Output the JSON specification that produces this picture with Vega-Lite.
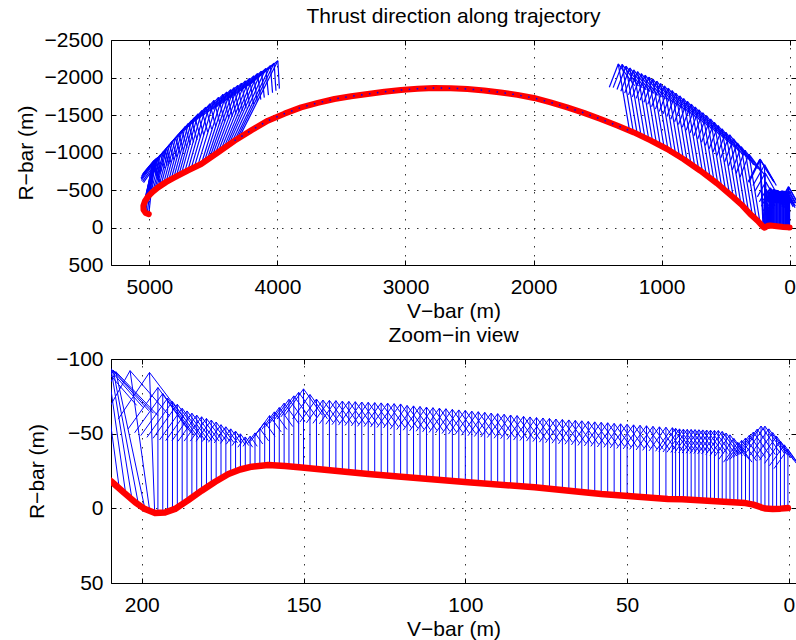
{
"$schema":"https://vega.github.io/schema/vega-lite/v6.json",
"padding":{"left":14,"top":5,"right":0,"bottom":0},
"spacing":1,
"config":{
"font":"Liberation Sans",
"view":{"stroke":"#000","strokeWidth":1},
"title":{"fontSize":21,"fontWeight":"normal","color":"#000","font":"Liberation Sans","anchor":"middle","frame":"group","baseline":"alphabetic","offset":2},
"axis":{"labelFont":"Liberation Sans","titleFont":"Liberation Sans","labelFontSize":21,"titleFontSize":21,"titleFontWeight":"normal","labelColor":"#000","titleColor":"#000","tickColor":"#000","tickSize":-5,"domain":false,"labelFlush":false,"labelOverlap":false,"labelBound":false,"gridColor":"#000","gridDash":[1.5,7.5],"gridOpacity":0.8,"gridWidth":1}
},
"datasets":{
"tTraj":[
{"i":0,"x":5005,"y":-178},{"i":1,"x":5030,"y":-195},{"i":2,"x":5046,"y":-235},{"i":3,"x":5047,"y":-290},{"i":4,"x":5035,"y":-350},{"i":5,"x":5012,"y":-410},{"i":6,"x":4975,"y":-475},{"i":7,"x":4932,"y":-535},{"i":8,"x":4870,"y":-605},{"i":9,"x":4803,"y":-668},{"i":10,"x":4700,"y":-760},{"i":11,"x":4595,"y":-847},{"i":12,"x":4465,"y":-1000},{"i":13,"x":4335,"y":-1157},{"i":14,"x":4205,"y":-1295},{"i":15,"x":4075,"y":-1424},{"i":16,"x":3945,"y":-1518},{"i":17,"x":3815,"y":-1601},{"i":18,"x":3685,"y":-1662},{"i":19,"x":3555,"y":-1713},{"i":20,"x":3425,"y":-1750},{"i":21,"x":3295,"y":-1780},{"i":22,"x":3165,"y":-1810},{"i":23,"x":3036,"y":-1833},{"i":24,"x":2906,"y":-1850},{"i":25,"x":2776,"y":-1860},{"i":26,"x":2646,"y":-1858},{"i":27,"x":2516,"y":-1847},{"i":28,"x":2386,"y":-1828},{"i":29,"x":2256,"y":-1801},{"i":30,"x":2126,"y":-1768},{"i":31,"x":1997,"y":-1727},{"i":32,"x":1867,"y":-1668},{"i":33,"x":1737,"y":-1601},{"i":34,"x":1607,"y":-1528},{"i":35,"x":1477,"y":-1447},{"i":36,"x":1347,"y":-1360},{"i":37,"x":1217,"y":-1268},{"i":38,"x":1087,"y":-1162},{"i":39,"x":957,"y":-1047},{"i":40,"x":827,"y":-910},{"i":41,"x":698,"y":-757},{"i":42,"x":568,"y":-590},{"i":43,"x":438,"y":-401},{"i":44,"x":370,"y":-295},{"i":45,"x":308,"y":-180},{"i":46,"x":250,"y":-90},{"i":47,"x":204,"y":-5},{"i":48,"x":195,"y":3},{"i":49,"x":170,"y":-24},{"i":50,"x":150,"y":-27},{"i":51,"x":100,"y":-17},{"i":52,"x":50,"y":-8},{"i":53,"x":15,"y":-4},{"i":54,"x":8,"y":0},{"i":55,"x":0,"y":0}
],
"tArr":[
{"x":5005,"y":-178,"tx":4965,"ty":-800,"ax":5045.9,"ay":-599.1,"bx":4910.5,"by":-590.3},
{"x":5017.5,"y":-186.5,"tx":4970,"ty":-815,"ax":5054.2,"ay":-612.8,"bx":4917.3,"by":-602.4},
{"x":5030,"y":-195,"tx":4975,"ty":-830,"ax":5062.4,"ay":-626.4,"bx":4924,"by":-614.4},
{"x":5038,"y":-217.5,"tx":4975,"ty":-845,"ax":5064.2,"ay":-644.8,"bx":4927.5,"by":-631.1},
{"x":5046,"y":-240,"tx":4975,"ty":-860,"ax":5065.9,"ay":-663.1,"bx":4930.9,"by":-647.7},
{"x":5046,"y":-270,"tx":4970,"ty":-875,"ax":5061,"ay":-683.6,"bx":4929.2,"by":-667.1},
{"x":5046,"y":-300,"tx":4965,"ty":-890,"ax":5056,"ay":-704.1,"bx":4927.4,"by":-686.5},
{"x":5038,"y":-330,"tx":4957.5,"ty":-902.5,"ax":5046.4,"ay":-722.3,"bx":4921.7,"by":-704.8},
{"x":5030,"y":-360,"tx":4950,"ty":-915,"ax":5036.8,"ay":-740.5,"bx":4916,"by":-723.1},
{"x":5019,"y":-390,"tx":4942.5,"ty":-925,"ax":5026,"ay":-756.7,"bx":4909.5,"by":-740.1},
{"x":5008,"y":-420,"tx":4935,"ty":-935,"ax":5015.2,"ay":-772.9,"bx":4903,"by":-757.1},
{"x":4991.5,"y":-447.5,"tx":4912.5,"ty":-972.5,"ax":4995.8,"ay":-807.8,"bx":4881.4,"by":-790.6},
{"x":4975,"y":-475,"tx":4890,"ty":-1010,"ax":4976.4,"ay":-842.7,"bx":4859.8,"by":-824.1},
{"x":4960,"y":-495,"tx":4877.5,"ty":-1033,"ax":4963.4,"ay":-864.5,"bx":4846.2,"by":-846.5},
{"x":4945,"y":-515,"tx":4865,"ty":-1056,"ax":4950.3,"ay":-886.2,"bx":4832.5,"by":-868.8},
{"x":4927.5,"y":-537.5,"tx":4842.5,"ty":-1101,"ax":4931.9,"ay":-924.3,"bx":4809.2,"by":-905.8},
{"x":4910,"y":-560,"tx":4820,"ty":-1146,"ax":4913.5,"ay":-962.4,"bx":4785.9,"by":-942.8},
{"x":4890,"y":-582.5,"tx":4795,"ty":-1195.5,"ax":4893.1,"ay":-1003.6,"bx":4759.6,"by":-982.9},
{"x":4870,"y":-605,"tx":4770,"ty":-1245,"ax":4872.7,"ay":-1044.7,"bx":4733.3,"by":-1022.9},
{"x":4850,"y":-624,"tx":4745,"ty":-1294.5,"ax":4852.7,"ay":-1084.7,"bx":4706.7,"by":-1061.8},
{"x":4830,"y":-643,"tx":4720,"ty":-1344,"ax":4832.6,"ay":-1124.7,"bx":4680,"by":-1100.7},
{"x":4810,"y":-661.5,"tx":4695,"ty":-1386.5,"ax":4811.9,"ay":-1159.8,"bx":4654,"by":-1134.7},
{"x":4790,"y":-680,"tx":4670,"ty":-1429,"ax":4791.2,"ay":-1194.9,"bx":4628,"by":-1168.7},
{"x":4770,"y":-698,"tx":4645,"ty":-1471.5,"ax":4770.5,"ay":-1229.9,"bx":4602,"by":-1202.6},
{"x":4750,"y":-716,"tx":4620,"ty":-1514,"ax":4749.8,"ay":-1264.9,"bx":4576,"by":-1236.5},
{"x":4725,"y":-738,"tx":4590,"ty":-1559.5,"ax":4724,"ay":-1303.1,"bx":4545.1,"by":-1273.7},
{"x":4700,"y":-760,"tx":4560,"ty":-1605,"ax":4698.2,"ay":-1341.3,"bx":4514.2,"by":-1310.9},
{"x":4675,"y":-781,"tx":4527.5,"ty":-1649.5,"ax":4670.8,"ay":-1378.9,"bx":4481.7,"by":-1346.8},
{"x":4650,"y":-802,"tx":4495,"ty":-1694,"ax":4643.3,"ay":-1416.5,"bx":4449.1,"by":-1382.7},
{"x":4622.5,"y":-824.5,"tx":4460,"ty":-1735,"ax":4612.8,"ay":-1452.2,"bx":4414.5,"by":-1416.8},
{"x":4595,"y":-847,"tx":4425,"ty":-1776,"ax":4582.3,"ay":-1487.9,"bx":4379.9,"by":-1450.9},
{"x":4572.5,"y":-873.5,"tx":4395,"ty":-1806.5,"ax":4555.2,"ay":-1517.9,"bx":4352,"by":-1479.3},
{"x":4550,"y":-900,"tx":4365,"ty":-1837,"ax":4528.1,"ay":-1547.9,"bx":4324.1,"by":-1507.7},
{"x":4530,"y":-923.5,"tx":4337.5,"ty":-1865.5,"ax":4503.6,"ay":-1575.6,"bx":4298.5,"by":-1533.7},
{"x":4510,"y":-947,"tx":4310,"ty":-1894,"ax":4479.1,"ay":-1603.3,"bx":4272.9,"by":-1559.7},
{"x":4487.5,"y":-973.5,"tx":4280,"ty":-1924.5,"ax":4452.1,"ay":-1633.3,"bx":4245,"by":-1588.1},
{"x":4465,"y":-1000,"tx":4250,"ty":-1955,"ax":4425,"ay":-1663.2,"bx":4217,"by":-1616.4},
{"x":4442.5,"y":-1027.5,"tx":4217.5,"ty":-1988.5,"ax":4396.5,"ay":-1695.9,"bx":4187.2,"by":-1646.9},
{"x":4420,"y":-1055,"tx":4185,"ty":-2022,"ax":4367.9,"ay":-1728.5,"bx":4157.3,"by":-1677.3},
{"x":4400,"y":-1080,"tx":4155,"ty":-2052.5,"ax":4341.8,"ay":-1758.3,"bx":4130,"by":-1704.9},
{"x":4380,"y":-1105,"tx":4125,"ty":-2083,"ax":4315.7,"ay":-1788.1,"bx":4102.7,"by":-1732.5},
{"x":4357.5,"y":-1131,"tx":4090,"ty":-2120.5,"ax":4286.1,"ay":-1823.2,"bx":4070.6,"by":-1764.9},
{"x":4335,"y":-1157,"tx":4055,"ty":-2158,"ax":4256.4,"ay":-1858.2,"bx":4038.4,"by":-1797.2},
{"x":4317.5,"y":-1176,"tx":4026,"ty":-2191,"ax":4232.8,"ay":-1887.8,"bx":4011.7,"by":-1824.3},
{"x":4300,"y":-1195,"tx":3997,"ty":-2224,"ax":4209.1,"ay":-1917.4,"bx":3984.9,"by":-1851.4},
{"x":1250,"y":-1291,"tx":1338,"ty":-2181,"ax":1408,"ay":-1871,"bx":1210,"by":-1890},
{"x":1220,"y":-1270,"tx":1308,"ty":-2175,"ax":1378,"ay":-1865,"bx":1180,"by":-1884},
{"x":1190,"y":-1246,"tx":1278,"ty":-2151,"ax":1348,"ay":-1841,"bx":1150,"by":-1860},
{"x":1160,"y":-1222,"tx":1248,"ty":-2127,"ax":1318,"ay":-1817,"bx":1120,"by":-1836},
{"x":1130,"y":-1197,"tx":1218,"ty":-2102,"ax":1288,"ay":-1792,"bx":1090,"by":-1811},
{"x":1100,"y":-1173,"tx":1188,"ty":-2078,"ax":1258,"ay":-1768,"bx":1060,"by":-1787},
{"x":1070,"y":-1147,"tx":1158,"ty":-2052,"ax":1228,"ay":-1742,"bx":1030,"by":-1761},
{"x":1040,"y":-1120,"tx":1128,"ty":-2032,"ax":1198,"ay":-1722,"bx":1000,"by":-1741},
{"x":1010,"y":-1094,"tx":1098,"ty":-2006,"ax":1168,"ay":-1696,"bx":970,"by":-1715},
{"x":980,"y":-1067,"tx":1068,"ty":-1979,"ax":1138,"ay":-1669,"bx":940,"by":-1688},
{"x":950,"y":-1040,"tx":1038,"ty":-1952,"ax":1108,"ay":-1642,"bx":910,"by":-1661},
{"x":920,"y":-1008,"tx":1008,"ty":-1920,"ax":1078,"ay":-1610,"bx":880,"by":-1629},
{"x":890,"y":-976,"tx":978,"ty":-1888,"ax":1048,"ay":-1578,"bx":850,"by":-1597},
{"x":860,"y":-945,"tx":948,"ty":-1857,"ax":1018,"ay":-1547,"bx":820,"by":-1566},
{"x":830,"y":-913,"tx":918,"ty":-1825,"ax":988,"ay":-1515,"bx":790,"by":-1534},
{"x":800,"y":-878,"tx":888,"ty":-1790,"ax":958,"ay":-1480,"bx":760,"by":-1499},
{"x":770,"y":-842,"tx":858,"ty":-1754,"ax":928,"ay":-1444,"bx":730,"by":-1463},
{"x":740,"y":-807,"tx":828,"ty":-1719,"ax":898,"ay":-1409,"bx":700,"by":-1428},
{"x":710,"y":-771,"tx":798,"ty":-1683,"ax":868,"ay":-1373,"bx":670,"by":-1392},
{"x":680,"y":-734,"tx":768,"ty":-1646,"ax":838,"ay":-1336,"bx":640,"by":-1355},
{"x":650,"y":-695,"tx":738,"ty":-1607,"ax":808,"ay":-1297,"bx":610,"by":-1316},
{"x":620,"y":-657,"tx":708,"ty":-1569,"ax":778,"ay":-1259,"bx":580,"by":-1278},
{"x":590,"y":-618,"tx":678,"ty":-1530,"ax":748,"ay":-1220,"bx":550,"by":-1239},
{"x":560,"y":-578,"tx":648,"ty":-1490,"ax":718,"ay":-1180,"bx":520,"by":-1199},
{"x":530,"y":-535,"tx":618,"ty":-1447,"ax":688,"ay":-1137,"bx":490,"by":-1156},
{"x":500,"y":-491,"tx":588,"ty":-1403,"ax":658,"ay":-1093,"bx":460,"by":-1112},
{"x":470,"y":-448,"tx":558,"ty":-1360,"ax":628,"ay":-1050,"bx":430,"by":-1069},
{"x":440,"y":-404,"tx":528,"ty":-1316,"ax":598,"ay":-1006,"bx":400,"by":-1025},
{"x":410,"y":-357,"tx":498,"ty":-1269,"ax":568,"ay":-959,"bx":370,"by":-978},
{"x":380,"y":-311,"tx":468,"ty":-1236,"ax":538,"ay":-926,"bx":340,"by":-945},
{"x":350,"y":-258,"tx":438,"ty":-1183,"ax":508,"ay":-873,"bx":310,"by":-892},
{"x":320,"y":-202,"tx":408,"ty":-1127,"ax":478,"ay":-817,"bx":280,"by":-836},
{"x":290,"y":-152,"tx":378,"ty":-1077,"ax":448,"ay":-767,"bx":250,"by":-786},
{"x":260,"y":-105,"tx":348,"ty":-1030,"ax":418,"ay":-720,"bx":220,"by":-739},
{"x":230,"y":-53,"tx":318,"ty":-978,"ax":388,"ay":-668,"bx":190,"by":-687},
{"x":207,"y":-14,"tx":232,"ty":-914,"ax":321.9,"ay":-614.3,"bx":125.7,"by":-619.7},
{"x":203,"y":-6,"tx":231,"ty":-911,"ax":320.4,"ay":-609.3,"bx":123.2,"by":-615.4},
{"x":199,"y":0.5,"tx":229,"ty":-899.5,"ax":317.2,"ay":-599.2,"bx":121,"by":-605.8},
{"x":195,"y":3,"tx":195,"ty":-836,"ax":286.5,"ay":-559.1,"bx":103.5,"by":-559.1},
{"x":190.5,"y":1.2,"tx":190.5,"ty":-725.8,"ax":269.7,"ay":-485.9,"bx":111.3,"by":-485.9},
{"x":186,"y":-4.9,"tx":186,"ty":-607.9,"ax":251.7,"ay":-408.9,"bx":120.3,"by":-408.9},
{"x":181.5,"y":-11.8,"tx":181.5,"ty":-506.8,"ax":235.5,"ay":-343.4,"bx":127.5,"by":-343.4},
{"x":177,"y":-18.2,"tx":177,"ty":-414.2,"ax":220.2,"ay":-283.5,"bx":133.8,"by":-283.5},
{"x":172.5,"y":-23.6,"tx":172.5,"ty":-319.6,"ax":204.8,"ay":-221.9,"bx":140.2,"by":-221.9},
{"x":168,"y":-27,"tx":168,"ty":-235,"ax":190.7,"ay":-166.4,"bx":145.3,"by":-166.4},
{"x":163.5,"y":-28.5,"tx":163.5,"ty":-277.5,"ax":190.6,"ay":-195.3,"bx":136.4,"by":-195.3},
{"x":160.5,"y":-29,"tx":160.5,"ty":-360,"ax":196.6,"ay":-250.8,"bx":124.4,"by":-250.8},
{"x":157.5,"y":-28.7,"tx":157.5,"ty":-416.7,"ax":199.8,"ay":-288.7,"bx":115.2,"by":-288.7},
{"x":154.5,"y":-28.2,"tx":154.5,"ty":-476.2,"ax":203.3,"ay":-328.4,"bx":105.7,"by":-328.4},
{"x":151.5,"y":-27.6,"tx":151.5,"ty":-528.6,"ax":206.1,"ay":-363.3,"bx":96.9,"by":-363.3},
{"x":148,"y":-26.9,"tx":148,"ty":-519.9,"ax":201.7,"ay":-357.2,"bx":94.3,"by":-357.2},
{"x":144,"y":-26,"tx":144,"ty":-491,"ax":194.7,"ay":-337.5,"bx":93.3,"by":-337.5},
{"x":140,"y":-25.1,"tx":140,"ty":-495.1,"ax":191.2,"ay":-340,"bx":88.8,"by":-340},
{"x":136,"y":-24.3,"tx":136,"ty":-497.3,"ax":187.6,"ay":-341.2,"bx":84.4,"by":-341.2},
{"x":132,"y":-23.4,"tx":132,"ty":-501.4,"ax":184.1,"ay":-343.7,"bx":79.9,"by":-343.7},
{"x":128,"y":-22.6,"tx":128,"ty":-504.6,"ax":180.5,"ay":-345.5,"bx":75.5,"by":-345.5},
{"x":124,"y":-21.9,"tx":124,"ty":-506.9,"ax":176.9,"ay":-346.9,"bx":71.1,"by":-346.9},
{"x":120,"y":-21.2,"tx":120,"ty":-508.2,"ax":173.1,"ay":-347.5,"bx":66.9,"by":-347.5},
{"x":114,"y":-20.1,"tx":114,"ty":-501.1,"ax":166.4,"ay":-342.4,"bx":61.6,"by":-342.4},
{"x":108,"y":-19,"tx":108,"ty":-500,"ax":160.4,"ay":-341.3,"bx":55.6,"by":-341.3},
{"x":102,"y":-17.9,"tx":102,"ty":-497.9,"ax":154.3,"ay":-339.5,"bx":49.7,"by":-339.5},
{"x":96,"y":-16.9,"tx":96,"ty":-494.9,"ax":148.1,"ay":-337.2,"bx":43.9,"by":-337.2},
{"x":90,"y":-15.9,"tx":90,"ty":-490.9,"ax":141.8,"ay":-334.1,"bx":38.2,"by":-334.1},
{"x":84,"y":-15,"tx":84,"ty":-486,"ax":135.3,"ay":-330.6,"bx":32.7,"by":-330.6},
{"x":78,"y":-14,"tx":78,"ty":-482,"ax":129,"ay":-327.6,"bx":27,"by":-327.6},
{"x":72,"y":-12.7,"tx":72,"ty":-483.7,"ax":123.3,"ay":-328.3,"bx":20.7,"by":-328.3},
{"x":66,"y":-11.3,"tx":66,"ty":-487.3,"ax":117.9,"ay":-330.2,"bx":14.1,"by":-330.2},
{"x":60,"y":-10,"tx":60,"ty":-489,"ax":112.2,"ay":-330.9,"bx":7.8,"by":-330.9},
{"x":54,"y":-9,"tx":54,"ty":-488,"ax":106.2,"ay":-329.9,"bx":1.8,"by":-329.9},
{"x":48,"y":-8,"tx":48,"ty":-487,"ax":100.2,"ay":-328.9,"bx":-4.2,"by":-328.9},
{"x":42,"y":-7,"tx":42,"ty":-486,"ax":94.2,"ay":-327.9,"bx":-10.2,"by":-327.9},
{"x":36,"y":-6.1,"tx":36,"ty":-485.1,"ax":88.2,"ay":-327,"bx":-16.2,"by":-327},
{"x":32.6,"y":-5.9,"tx":32.6,"ty":-476.9,"ax":83.9,"ay":-321.5,"bx":-18.7,"by":-321.5},
{"x":29,"y":-5.5,"tx":29,"ty":-477.5,"ax":80.4,"ay":-321.7,"bx":-22.4,"by":-321.7},
{"x":25.4,"y":-5,"tx":25.4,"ty":-479,"ax":77.1,"ay":-322.6,"bx":-26.3,"by":-322.6},
{"x":21.8,"y":-4.6,"tx":21.8,"ty":-479.6,"ax":73.6,"ay":-322.8,"bx":-30,"by":-322.8},
{"x":18.2,"y":-4.1,"tx":18.2,"ty":-455.1,"ax":67.4,"ay":-306.3,"bx":-31,"by":-306.3},
{"x":15.8,"y":-3.8,"tx":15.8,"ty":-407.8,"ax":59.8,"ay":-274.5,"bx":-28.2,"by":-274.5},
{"x":13.4,"y":-3.5,"tx":13.4,"ty":-439.5,"ax":60.9,"ay":-295.6,"bx":-34.1,"by":-295.6},
{"x":11,"y":-2.5,"tx":11,"ty":-487.5,"ax":63.9,"ay":-327.4,"bx":-41.9,"by":-327.4},
{"x":8.6,"y":-0.7,"tx":8.6,"ty":-544.7,"ax":67.9,"ay":-365.2,"bx":-50.7,"by":-365.2},
{"x":6.2,"y":0.3,"tx":6.2,"ty":-534.7,"ax":64.5,"ay":-358.1,"bx":-52.1,"by":-358.1},
{"x":3.8,"y":0.4,"tx":3.8,"ty":-485.6,"ax":56.8,"ay":-325.2,"bx":-49.2,"by":-325.2},
{"x":1.4,"y":0,"tx":1.4,"ty":-425,"ax":47.7,"ay":-284.7,"bx":-44.9,"by":-284.7},
{"x":0.3,"y":-0.2,"tx":0.3,"ty":-394.2,"ax":43.2,"ay":-264.2,"bx":-42.6,"by":-264.2}
],
"zTraj":[
{"x":212,"y":-22},{"x":209.3,"y":-17.9},{"x":205.5,"y":-10.5},{"x":202,"y":-4},{"x":199,"y":0.5},{"x":195.9,"y":3.1},{"x":192.8,"y":2.8},{"x":189.7,"y":0.4},{"x":185.6,"y":-5.5},{"x":181.5,"y":-11.8},{"x":177.3,"y":-17.8},{"x":173.2,"y":-23},{"x":169.6,"y":-26},{"x":166,"y":-27.9},{"x":160.9,"y":-29},{"x":155.7,"y":-28.4},{"x":150.6,"y":-27.4},{"x":140.3,"y":-25.2},{"x":130,"y":-23},{"x":119.8,"y":-21.2},{"x":99.2,"y":-17.4},{"x":78.6,"y":-14.1},{"x":58,"y":-9.6},{"x":37.4,"y":-6.3},{"x":33,"y":-6.1},{"x":20,"y":-4.4},{"x":13.4,"y":-3.5},{"x":11,"y":-2.5},{"x":9.8,"y":-1.6},{"x":8.6,"y":-0.7},{"x":7.4,"y":0.1},{"x":5,"y":0.4},{"x":2.6,"y":0.2},{"x":0.3,"y":-0.2}
],
"zArr":[
{"x":207,"y":-14.4,"tx":212,"ty":-95,"ax":219.1,"ay":-67.9,"bx":201.6,"by":-69},
{"x":205,"y":-10.5,"tx":210.5,"ty":-94.5,"ax":217.8,"ay":-66.2,"bx":199.5,"by":-67.4},
{"x":203,"y":-6,"tx":209.5,"ty":-93.5,"ax":216.9,"ay":-63.9,"bx":197.8,"by":-65.3},
{"x":201,"y":-2.4,"tx":208.8,"ty":-92.5,"ax":216.1,"ay":-62,"bx":196.4,"by":-63.7},
{"x":199,"y":0.5,"tx":208,"ty":-91.5,"ax":215.1,"ay":-60.1,"bx":195,"by":-62.1},
{"x":197.5,"y":2.2,"tx":203.6,"ty":-92.2,"ax":211.9,"ay":-60.3,"bx":191.3,"by":-61.7},
{"x":196,"y":3.1,"tx":197.6,"ty":-91,"ax":207.3,"ay":-59.7,"bx":186.8,"by":-60.1},
{"x":195,"y":3,"tx":195,"ty":-80.9,"ax":204.2,"ay":-53.2,"bx":185.9,"by":-53.2},
{"x":193.5,"y":2.9,"tx":193.5,"ty":-76.9,"ax":202.2,"ay":-50.6,"bx":184.8,"by":-50.6},
{"x":192,"y":2.3,"tx":192,"ty":-73.8,"ax":200.3,"ay":-48.7,"bx":183.7,"by":-48.7},
{"x":190.5,"y":1.2,"tx":190.5,"ty":-71.5,"ax":198.4,"ay":-47.5,"bx":182.6,"by":-47.5},
{"x":189,"y":-0.5,"tx":189,"ty":-69.7,"ax":196.5,"ay":-46.9,"bx":181.5,"by":-46.9},
{"x":187.5,"y":-2.7,"tx":187.5,"ty":-67,"ax":194.5,"ay":-45.8,"bx":180.5,"by":-45.8},
{"x":186,"y":-4.9,"tx":186,"ty":-65.2,"ax":192.6,"ay":-45.3,"bx":179.4,"by":-45.3},
{"x":184.5,"y":-7.2,"tx":184.5,"ty":-63.7,"ax":190.7,"ay":-45.1,"bx":178.3,"by":-45.1},
{"x":183,"y":-9.5,"tx":183,"ty":-62.4,"ax":188.8,"ay":-44.9,"bx":177.2,"by":-44.9},
{"x":181.5,"y":-11.8,"tx":181.5,"ty":-61.3,"ax":186.9,"ay":-45,"bx":176.1,"by":-45},
{"x":180,"y":-14,"tx":180,"ty":-60.2,"ax":185,"ay":-45,"bx":175,"by":-45},
{"x":178.5,"y":-16.1,"tx":178.5,"ty":-59.1,"ax":183.2,"ay":-44.9,"bx":173.8,"by":-44.9},
{"x":177,"y":-18.2,"tx":177,"ty":-57.8,"ax":181.3,"ay":-44.7,"bx":172.7,"by":-44.7},
{"x":175.5,"y":-20.1,"tx":175.5,"ty":-56,"ax":179.4,"ay":-44.2,"bx":171.6,"by":-44.2},
{"x":174,"y":-22,"tx":174,"ty":-54.6,"ax":177.6,"ay":-43.8,"bx":170.4,"by":-43.8},
{"x":172.5,"y":-23.6,"tx":172.5,"ty":-53.2,"ax":175.7,"ay":-43.4,"bx":169.3,"by":-43.4},
{"x":171,"y":-25,"tx":171,"ty":-51.7,"ax":173.9,"ay":-42.9,"bx":168.1,"by":-42.9},
{"x":169.5,"y":-26.1,"tx":169.5,"ty":-49.9,"ax":172.1,"ay":-42,"bx":166.9,"by":-42},
{"x":168,"y":-27,"tx":168,"ty":-47.8,"ax":170.3,"ay":-40.9,"bx":165.7,"by":-40.9},
{"x":166.5,"y":-27.7,"tx":166.5,"ty":-48.3,"ax":168.7,"ay":-41.5,"bx":164.3,"by":-41.5},
{"x":165,"y":-28.1,"tx":165,"ty":-50.5,"ax":167.4,"ay":-43.1,"bx":162.6,"by":-43.1},
{"x":163.5,"y":-28.5,"tx":163.5,"ty":-53.4,"ax":166.2,"ay":-45.2,"bx":160.8,"by":-45.2},
{"x":162,"y":-28.8,"tx":162,"ty":-57.7,"ax":165.2,"ay":-48.2,"bx":158.8,"by":-48.2},
{"x":160.5,"y":-29,"tx":160.5,"ty":-62.1,"ax":164.1,"ay":-51.2,"bx":156.9,"by":-51.2},
{"x":159,"y":-28.9,"tx":159,"ty":-64.6,"ax":162.9,"ay":-52.8,"bx":155.1,"by":-52.8},
{"x":157.5,"y":-28.7,"tx":157.5,"ty":-67.5,"ax":161.7,"ay":-54.7,"bx":153.3,"by":-54.7},
{"x":156,"y":-28.5,"tx":156,"ty":-70.4,"ax":160.6,"ay":-56.6,"bx":151.4,"by":-56.6},
{"x":154.5,"y":-28.2,"tx":154.5,"ty":-73,"ax":159.4,"ay":-58.2,"bx":149.6,"by":-58.2},
{"x":153,"y":-27.9,"tx":153,"ty":-75.3,"ax":158.2,"ay":-59.7,"bx":147.8,"by":-59.7},
{"x":151.5,"y":-27.6,"tx":151.5,"ty":-77.7,"ax":157,"ay":-61.2,"bx":146,"by":-61.2},
{"x":150,"y":-27.3,"tx":150,"ty":-80,"ax":155.7,"ay":-62.6,"bx":144.3,"by":-62.6},
{"x":148,"y":-26.9,"tx":148,"ty":-76.2,"ax":153.4,"ay":-59.9,"bx":142.6,"by":-59.9},
{"x":146,"y":-26.4,"tx":146,"ty":-73.2,"ax":151.1,"ay":-57.8,"bx":140.9,"by":-57.8},
{"x":144,"y":-26,"tx":144,"ty":-72.5,"ax":149.1,"ay":-57.2,"bx":138.9,"by":-57.2},
{"x":142,"y":-25.6,"tx":142,"ty":-72.3,"ax":147.1,"ay":-56.9,"bx":136.9,"by":-56.9},
{"x":140,"y":-25.1,"tx":140,"ty":-72.1,"ax":145.1,"ay":-56.6,"bx":134.9,"by":-56.6},
{"x":138,"y":-24.7,"tx":138,"ty":-71.8,"ax":143.1,"ay":-56.3,"bx":132.9,"by":-56.3},
{"x":136,"y":-24.3,"tx":136,"ty":-71.6,"ax":141.2,"ay":-56,"bx":130.8,"by":-56},
{"x":134,"y":-23.8,"tx":134,"ty":-71.4,"ax":139.2,"ay":-55.7,"bx":128.8,"by":-55.7},
{"x":132,"y":-23.4,"tx":132,"ty":-71.2,"ax":137.2,"ay":-55.4,"bx":126.8,"by":-55.4},
{"x":130,"y":-23,"tx":130,"ty":-71,"ax":135.2,"ay":-55.2,"bx":124.8,"by":-55.2},
{"x":128,"y":-22.6,"tx":128,"ty":-70.8,"ax":133.3,"ay":-54.9,"bx":122.7,"by":-54.9},
{"x":126,"y":-22.3,"tx":126,"ty":-70.6,"ax":131.3,"ay":-54.7,"bx":120.7,"by":-54.7},
{"x":124,"y":-21.9,"tx":124,"ty":-70.4,"ax":129.3,"ay":-54.4,"bx":118.7,"by":-54.4},
{"x":122,"y":-21.6,"tx":122,"ty":-70.1,"ax":127.3,"ay":-54.1,"bx":116.7,"by":-54.1},
{"x":120,"y":-21.2,"tx":120,"ty":-69.9,"ax":125.3,"ay":-53.8,"bx":114.7,"by":-53.8},
{"x":118,"y":-20.8,"tx":118,"ty":-68.9,"ax":123.2,"ay":-53,"bx":112.8,"by":-53},
{"x":116,"y":-20.5,"tx":116,"ty":-68.6,"ax":121.2,"ay":-52.7,"bx":110.8,"by":-52.7},
{"x":114,"y":-20.1,"tx":114,"ty":-68.2,"ax":119.2,"ay":-52.3,"bx":108.8,"by":-52.3},
{"x":112,"y":-19.7,"tx":112,"ty":-67.8,"ax":117.2,"ay":-51.9,"bx":106.8,"by":-51.9},
{"x":110,"y":-19.4,"tx":110,"ty":-67.4,"ax":115.2,"ay":-51.6,"bx":104.8,"by":-51.6},
{"x":108,"y":-19,"tx":108,"ty":-67.1,"ax":113.2,"ay":-51.2,"bx":102.8,"by":-51.2},
{"x":106,"y":-18.6,"tx":106,"ty":-66.7,"ax":111.2,"ay":-50.8,"bx":100.8,"by":-50.8},
{"x":104,"y":-18.3,"tx":104,"ty":-66.3,"ax":109.2,"ay":-50.5,"bx":98.8,"by":-50.5},
{"x":102,"y":-17.9,"tx":102,"ty":-65.9,"ax":107.2,"ay":-50.1,"bx":96.8,"by":-50.1},
{"x":100,"y":-17.5,"tx":100,"ty":-65.6,"ax":105.2,"ay":-49.7,"bx":94.8,"by":-49.7},
{"x":98,"y":-17.2,"tx":98,"ty":-65.1,"ax":103.2,"ay":-49.3,"bx":92.8,"by":-49.3},
{"x":96,"y":-16.9,"tx":96,"ty":-64.7,"ax":101.2,"ay":-48.9,"bx":90.8,"by":-48.9},
{"x":94,"y":-16.6,"tx":94,"ty":-64.3,"ax":99.2,"ay":-48.6,"bx":88.8,"by":-48.6},
{"x":92,"y":-16.2,"tx":92,"ty":-63.8,"ax":97.2,"ay":-48.1,"bx":86.8,"by":-48.1},
{"x":90,"y":-15.9,"tx":90,"ty":-63.4,"ax":95.2,"ay":-47.7,"bx":84.8,"by":-47.7},
{"x":88,"y":-15.6,"tx":88,"ty":-63,"ax":93.2,"ay":-47.4,"bx":82.8,"by":-47.4},
{"x":86,"y":-15.3,"tx":86,"ty":-62.5,"ax":91.1,"ay":-46.9,"bx":80.9,"by":-46.9},
{"x":84,"y":-15,"tx":84,"ty":-62.1,"ax":89.1,"ay":-46.6,"bx":78.9,"by":-46.6},
{"x":82,"y":-14.6,"tx":82,"ty":-61.6,"ax":87.1,"ay":-46.1,"bx":76.9,"by":-46.1},
{"x":80,"y":-14.3,"tx":80,"ty":-61.2,"ax":85.1,"ay":-45.7,"bx":74.9,"by":-45.7},
{"x":78,"y":-14,"tx":78,"ty":-60.8,"ax":83.1,"ay":-45.4,"bx":72.9,"by":-45.4},
{"x":76,"y":-13.5,"tx":76,"ty":-60.5,"ax":81.1,"ay":-45,"bx":70.9,"by":-45},
{"x":74,"y":-13.1,"tx":74,"ty":-60.2,"ax":79.1,"ay":-44.7,"bx":68.9,"by":-44.7},
{"x":72,"y":-12.7,"tx":72,"ty":-59.8,"ax":77.1,"ay":-44.3,"bx":66.9,"by":-44.3},
{"x":70,"y":-12.2,"tx":70,"ty":-59.5,"ax":75.2,"ay":-43.9,"bx":64.8,"by":-43.9},
{"x":68,"y":-11.8,"tx":68,"ty":-59.2,"ax":73.2,"ay":-43.6,"bx":62.8,"by":-43.6},
{"x":66,"y":-11.3,"tx":66,"ty":-58.9,"ax":71.2,"ay":-43.2,"bx":60.8,"by":-43.2},
{"x":64,"y":-10.9,"tx":64,"ty":-58.6,"ax":69.2,"ay":-42.9,"bx":58.8,"by":-42.9},
{"x":62,"y":-10.5,"tx":62,"ty":-58.2,"ax":67.2,"ay":-42.5,"bx":56.8,"by":-42.5},
{"x":60,"y":-10,"tx":60,"ty":-57.9,"ax":65.2,"ay":-42.1,"bx":54.8,"by":-42.1},
{"x":58,"y":-9.6,"tx":58,"ty":-57.6,"ax":63.2,"ay":-41.8,"bx":52.8,"by":-41.8},
{"x":56,"y":-9.3,"tx":56,"ty":-57.3,"ax":61.2,"ay":-41.5,"bx":50.8,"by":-41.5},
{"x":54,"y":-9,"tx":54,"ty":-56.9,"ax":59.2,"ay":-41.1,"bx":48.8,"by":-41.1},
{"x":52,"y":-8.6,"tx":52,"ty":-56.6,"ax":57.2,"ay":-40.8,"bx":46.8,"by":-40.8},
{"x":50,"y":-8.3,"tx":50,"ty":-56.3,"ax":55.2,"ay":-40.5,"bx":44.8,"by":-40.5},
{"x":48,"y":-8,"tx":48,"ty":-55.9,"ax":53.2,"ay":-40.1,"bx":42.8,"by":-40.1},
{"x":46,"y":-7.7,"tx":46,"ty":-55.6,"ax":51.2,"ay":-39.8,"bx":40.8,"by":-39.8},
{"x":44,"y":-7.4,"tx":44,"ty":-55.3,"ax":49.2,"ay":-39.5,"bx":38.8,"by":-39.5},
{"x":42,"y":-7,"tx":42,"ty":-54.9,"ax":47.2,"ay":-39.1,"bx":36.8,"by":-39.1},
{"x":40,"y":-6.7,"tx":40,"ty":-54.6,"ax":45.2,"ay":-38.8,"bx":34.8,"by":-38.8},
{"x":38,"y":-6.4,"tx":38,"ty":-54.3,"ax":43.2,"ay":-38.5,"bx":32.8,"by":-38.5},
{"x":36,"y":-6.1,"tx":36,"ty":-54,"ax":41.2,"ay":-38.2,"bx":30.8,"by":-38.2},
{"x":35,"y":-6.2,"tx":35,"ty":-53.6,"ax":40.2,"ay":-38,"bx":29.8,"by":-38},
{"x":33.8,"y":-6.1,"tx":33.8,"ty":-53.2,"ax":38.9,"ay":-37.7,"bx":28.7,"by":-37.7},
{"x":32.6,"y":-5.9,"tx":32.6,"ty":-53,"ax":37.7,"ay":-37.5,"bx":27.5,"by":-37.5},
{"x":31.4,"y":-5.8,"tx":31.4,"ty":-52.9,"ax":36.5,"ay":-37.4,"bx":26.3,"by":-37.4},
{"x":30.2,"y":-5.6,"tx":30.2,"ty":-52.8,"ax":35.3,"ay":-37.3,"bx":25.1,"by":-37.3},
{"x":29,"y":-5.5,"tx":29,"ty":-52.7,"ax":34.1,"ay":-37.2,"bx":23.9,"by":-37.2},
{"x":27.8,"y":-5.3,"tx":27.8,"ty":-52.6,"ax":33,"ay":-37,"bx":22.6,"by":-37},
{"x":26.6,"y":-5.2,"tx":26.6,"ty":-52.5,"ax":31.8,"ay":-36.9,"bx":21.4,"by":-36.9},
{"x":25.4,"y":-5,"tx":25.4,"ty":-52.4,"ax":30.6,"ay":-36.8,"bx":20.2,"by":-36.8},
{"x":24.2,"y":-4.9,"tx":24.2,"ty":-52.3,"ax":29.4,"ay":-36.7,"bx":19,"by":-36.7},
{"x":23,"y":-4.7,"tx":23,"ty":-52.2,"ax":28.2,"ay":-36.5,"bx":17.8,"by":-36.5},
{"x":21.8,"y":-4.6,"tx":21.8,"ty":-52.1,"ax":27,"ay":-36.4,"bx":16.6,"by":-36.4},
{"x":20.6,"y":-4.4,"tx":20.6,"ty":-51.5,"ax":25.7,"ay":-36,"bx":15.5,"by":-36},
{"x":19.4,"y":-4.3,"tx":19.4,"ty":-50.4,"ax":24.4,"ay":-35.2,"bx":14.4,"by":-35.2},
{"x":18.2,"y":-4.1,"tx":18.2,"ty":-49.2,"ax":23.1,"ay":-34.3,"bx":13.3,"by":-34.3},
{"x":17,"y":-4,"tx":17,"ty":-46.8,"ax":21.7,"ay":-32.7,"bx":12.3,"by":-32.7},
{"x":15.8,"y":-3.8,"tx":15.8,"ty":-44.2,"ax":20.2,"ay":-30.9,"bx":11.4,"by":-30.9},
{"x":14.6,"y":-3.7,"tx":14.6,"ty":-45.5,"ax":19.2,"ay":-31.7,"bx":10,"by":-31.7},
{"x":13.4,"y":-3.5,"tx":13.4,"ty":-47.1,"ax":18.2,"ay":-32.7,"bx":8.6,"by":-32.7},
{"x":12.2,"y":-3.3,"tx":12.2,"ty":-49,"ax":17.2,"ay":-33.9,"bx":7.2,"by":-33.9},
{"x":11,"y":-2.5,"tx":11,"ty":-51,"ax":16.3,"ay":-35,"bx":5.7,"by":-35},
{"x":9.8,"y":-1.6,"tx":9.8,"ty":-53,"ax":15.4,"ay":-36,"bx":4.2,"by":-36},
{"x":8.6,"y":-0.7,"tx":8.6,"ty":-55.1,"ax":14.5,"ay":-37.1,"bx":2.7,"by":-37.1},
{"x":7.4,"y":0.1,"tx":7.4,"ty":-55,"ax":13.4,"ay":-36.8,"bx":1.4,"by":-36.8},
{"x":6.2,"y":0.3,"tx":6.2,"ty":-53.2,"ax":12,"ay":-35.5,"bx":0.4,"by":-35.5},
{"x":5,"y":0.4,"tx":5,"ty":-50.7,"ax":10.6,"ay":-33.8,"bx":-0.6,"by":-33.8},
{"x":3.8,"y":0.4,"tx":3.8,"ty":-48.2,"ax":9.1,"ay":-32.2,"bx":-1.5,"by":-32.2},
{"x":2.6,"y":0.2,"tx":2.6,"ty":-45,"ax":7.5,"ay":-30.1,"bx":-2.3,"by":-30.1},
{"x":1.4,"y":0,"tx":1.4,"ty":-42.5,"ax":6,"ay":-28.5,"bx":-3.2,"by":-28.5},
{"x":0.3,"y":-0.2,"tx":0.3,"ty":-39.6,"ax":4.6,"ay":-26.6,"bx":-4,"by":-26.6}
]
},
"vconcat":[
{
"width":685,"height":225,
"title":{"text":"Thrust direction along trajectory"},
"layer":[
{"data":{"name":"tArr"},"mark":{"type":"rule","color":"#0000ff","strokeWidth":1.2,"clip":true},
"encoding":{
"x":{"field":"x","type":"quantitative","scale":{"domain":[-50,5300],"reverse":true,"nice":false,"zero":false},
"axis":{"orient":"bottom","values":[0,1000,2000,3000,4000,5000],"format":"d","title":"V−bar (m)","titleY":52.7,"titleBaseline":"alphabetic","grid":true,"labelPadding":16}},
"y":{"field":"y","type":"quantitative","scale":{"domain":[-2500,500],"reverse":true,"nice":false,"zero":false},
"axis":{"orient":"left","values":[-2500,-2000,-1500,-1000,-500,0,500],"format":"d","title":"R−bar (m)","titleX":-79,"titleY":112.5,"titleBaseline":"alphabetic","grid":true,"labelPadding":13}},
"x2":{"field":"tx"},"y2":{"field":"ty"}}},
{"data":{"name":"tArr"},"mark":{"type":"rule","color":"#0000ff","strokeWidth":1.2,"clip":true},
"encoding":{
"x":{"field":"ax","type":"quantitative","scale":{"domain":[-50,5300],"reverse":true,"nice":false,"zero":false},
"axis":{"orient":"top","values":[0,1000,2000,3000,4000,5000],"labels":false,"title":null,"grid":false}},
"y":{"field":"ay","type":"quantitative","scale":{"domain":[-2500,500],"reverse":true,"nice":false,"zero":false},
"axis":{"orient":"right","values":[-2500,-2000,-1500,-1000,-500,0,500],"labels":false,"title":null,"grid":false}},
"x2":{"field":"tx"},"y2":{"field":"ty"}}},
{"data":{"name":"tArr"},"mark":{"type":"rule","color":"#0000ff","strokeWidth":1.2,"clip":true},
"encoding":{
"x":{"field":"bx","type":"quantitative","scale":{"domain":[-50,5300],"reverse":true,"nice":false,"zero":false},"axis":null},
"y":{"field":"by","type":"quantitative","scale":{"domain":[-2500,500],"reverse":true,"nice":false,"zero":false},"axis":null},
"x2":{"field":"tx"},"y2":{"field":"ty"}}},
{"data":{"name":"tTraj"},"mark":{"type":"line","color":"#ff0000","strokeWidth":6,"strokeCap":"round","strokeJoin":"round","clip":true},
"encoding":{
"x":{"field":"x","type":"quantitative","scale":{"domain":[-50,5300],"reverse":true,"nice":false,"zero":false},"axis":null},
"y":{"field":"y","type":"quantitative","scale":{"domain":[-2500,500],"reverse":true,"nice":false,"zero":false},"axis":null},
"order":{"field":"i","type":"quantitative"}}},
{"data":{"name":"tTraj"},"transform":[{"filter":{"field":"x","range":[1217,4335]}}],"mark":{"type":"line","color":"#0000ff","strokeWidth":1.5,"strokeDash":[1.5,6.5],"clip":true},
"encoding":{
"x":{"field":"x","type":"quantitative","scale":{"domain":[-50,5300],"reverse":true,"nice":false,"zero":false},"axis":null},
"y":{"field":"y","type":"quantitative","scale":{"domain":[-2500,500],"reverse":true,"nice":false,"zero":false},"axis":null},
"order":{"field":"i","type":"quantitative"}}}
],
"resolve":{"axis":{"x":"independent","y":"independent"}}
},
{
"width":685,"height":224,
"title":{"text":"Zoom−in view"},
"layer":[
{"data":{"name":"zArr"},"mark":{"type":"rule","color":"#0000ff","strokeWidth":1,"clip":true},
"encoding":{
"x":{"field":"x","type":"quantitative","scale":{"domain":[-2.2,209.5],"reverse":true,"nice":false,"zero":false},
"axis":{"orient":"bottom","values":[0,50,100,150,200],"format":"d","title":"V−bar (m)","titleY":52,"titleBaseline":"alphabetic","grid":true,"labelPadding":16}},
"y":{"field":"y","type":"quantitative","scale":{"domain":[-100,50],"reverse":true,"nice":false,"zero":false},
"axis":{"orient":"left","values":[-100,-50,0,50],"format":"d","title":"R−bar (m)","titleX":-67.3,"titleY":112,"titleBaseline":"alphabetic","grid":true,"labelPadding":13}},
"x2":{"field":"tx"},"y2":{"field":"ty"}}},
{"data":{"name":"zArr"},"mark":{"type":"rule","color":"#0000ff","strokeWidth":1,"clip":true},
"encoding":{
"x":{"field":"ax","type":"quantitative","scale":{"domain":[-2.2,209.5],"reverse":true,"nice":false,"zero":false},
"axis":{"orient":"top","values":[0,50,100,150,200],"labels":false,"title":null,"grid":false}},
"y":{"field":"ay","type":"quantitative","scale":{"domain":[-100,50],"reverse":true,"nice":false,"zero":false},
"axis":{"orient":"right","values":[-100,-50,0,50],"labels":false,"title":null,"grid":false}},
"x2":{"field":"tx"},"y2":{"field":"ty"}}},
{"data":{"name":"zArr"},"mark":{"type":"rule","color":"#0000ff","strokeWidth":1,"clip":true},
"encoding":{
"x":{"field":"bx","type":"quantitative","scale":{"domain":[-2.2,209.5],"reverse":true,"nice":false,"zero":false},"axis":null},
"y":{"field":"by","type":"quantitative","scale":{"domain":[-100,50],"reverse":true,"nice":false,"zero":false},"axis":null},
"x2":{"field":"tx"},"y2":{"field":"ty"}}},
{"data":{"name":"zTraj"},"mark":{"type":"line","color":"#ff0000","strokeWidth":6.5,"strokeCap":"round","strokeJoin":"round","clip":true},
"encoding":{
"x":{"field":"x","type":"quantitative","scale":{"domain":[-2.2,209.5],"reverse":true,"nice":false,"zero":false},"axis":null},
"y":{"field":"y","type":"quantitative","scale":{"domain":[-100,50],"reverse":true,"nice":false,"zero":false},"axis":null}}}
],
"resolve":{"axis":{"x":"independent","y":"independent"}}
}
]
}
